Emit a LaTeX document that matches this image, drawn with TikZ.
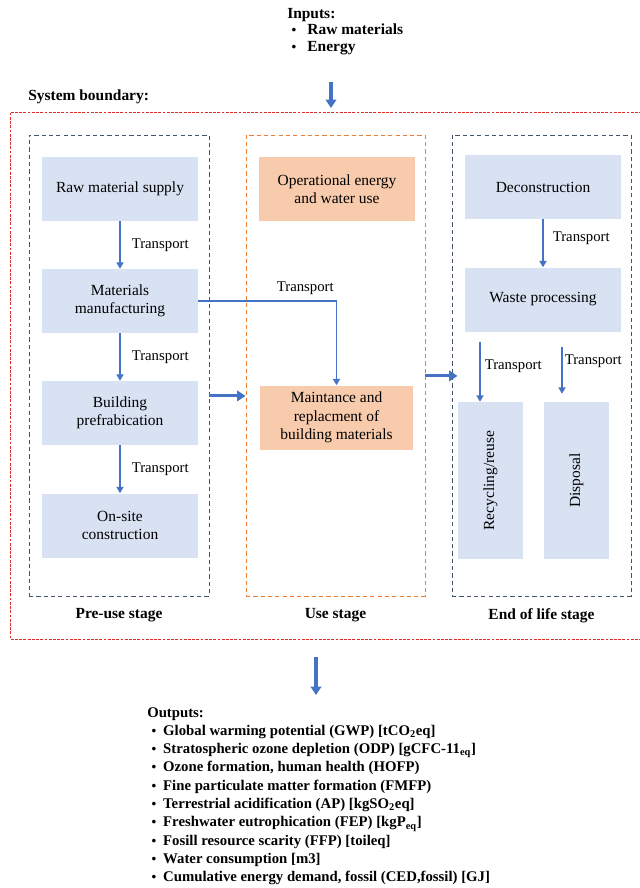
\documentclass[tikz,border=0pt]{standalone}
\usepackage{fontspec}
\setmainfont{Liberation Serif}
\usetikzlibrary{arrows.meta, positioning}
\definecolor{stageblue}{HTML}{D9E2F3}
\definecolor{usepeach}{HTML}{F8CBAD}
\definecolor{flowblue}{HTML}{4472C4}
\definecolor{frameslate}{HTML}{44546A}
\definecolor{frameorange}{HTML}{ED7D31}
\definecolor{boundred}{HTML}{DD2C2C}
\newcommand{\smbul}{\hspace{3pt}{\fontsize{9.5}{9.5}\selectfont\textbullet}}

\begin{document}
\begin{tikzpicture}[x=0.25mm, y=-0.25mm, font=\fontsize{11}{13}\selectfont,
  procbox/.style={fill=stageblue, minimum width=39mm, minimum height=16mm, align=center, inner sep=1pt},
  usebox/.style={procbox, fill=usepeach},
  tallbox/.style={fill=stageblue, minimum width=16.25mm, minimum height=39.25mm, inner sep=0pt},
  stageframe/.style={draw=frameslate, line width=0.7pt, dash pattern=on 3pt off 2.2pt, minimum width=45mm, minimum height=115.25mm},
  stagelabel/.style={inner sep=0pt, font=\fontsize{11}{13}\selectfont\bfseries},
  tlabel/.style={inner sep=0pt, font=\fontsize{10.5}{12}\selectfont},
  flow/.style={draw=flowblue, line width=1.1pt, -{Triangle[length=4.5pt,width=5pt]}},
  bigflow/.style={draw=flowblue, line width=2.2pt, -{Triangle[length=6pt,width=7.5pt]}}]
  \useasboundingbox (0,0) rectangle (640,888);

  % inputs
  \node[inner sep=0pt, anchor=north west, font=\fontsize{11}{12}\selectfont\bfseries] (inputs) at (287,6)
    {\begin{tabular}{@{}l@{\hspace{8pt}}l@{}}
      \multicolumn{2}{@{}l@{}}{Inputs:}\\
      \smbul & Raw materials\\
      \smbul & Energy
    \end{tabular}};
  \coordinate (intop) at (331,82);
  \coordinate (inbot) at (331,108);
  \draw[bigflow] (intop) -- (inbot);

  \node[stagelabel, anchor=west] (sysbound) at (28,97) {System boundary:};
  \draw[boundred, line width=0.6pt, dash pattern=on 2pt off 1pt] (642,112) -| (10,639) -- (642,639);

  % stage frames
  \node[stageframe] (preuse) at (119,365.5) {};
  \node[stageframe, draw=frameorange, minimum width=44.75mm] (usestage) at (335.5,365.5) {};
  \node[stageframe, minimum width=44.75mm] (eol) at (541.5,365.5) {};
  \node[stagelabel, below=3mm of preuse] {Pre-use stage};
  \node[stagelabel, below=3mm of usestage] {Use stage};
  \node[stagelabel, below=3mm of eol] {End of life stage};

  % pre-use stage
  \node[procbox] (rawsup) at (120,189) {Raw material supply};
  \node[procbox] (manu) at (120,301) {Materials\\manufacturing};
  \node[procbox] (prefab) at (120,413) {Building\\prefrabication};
  \node[procbox] (onsite) at (120,525.5) {On-site\\construction};
  \draw[flow] (rawsup) -- node[tlabel, midway, right=2.75mm] {Transport} (manu);
  \draw[flow] (manu) -- node[tlabel, midway, right=2.75mm] {Transport} (prefab);
  \draw[flow] (prefab) -- node[tlabel, midway, right=2.75mm] {Transport} (onsite);

  % use stage
  \node[usebox] (opuse) at (337,189) {Operational energy\\and water use};
  \node[usebox, minimum width=38.25mm] (maint) at (336.5,417.5) {Maintance and\\replacment of\\building materials};
  \draw[flow] (manu.east) -| node[tlabel, pos=0.5, above left=1.5mm and 0.5mm] {Transport} (maint.north);

  % end of life stage
  \node[procbox] (decon) at (543,187) {Deconstruction};
  \node[procbox] (waste) at (543,299.5) {Waste processing};
  \node[tallbox] (recyc) at (490.5,480.5) {\rotatebox{90}{Recycling/reuse}};
  \node[tallbox] (disp) at (576.5,480.5) {\rotatebox{90}{Disposal}};
  \draw[flow] (decon) -- node[tlabel, pos=0.4, right=2.25mm] {Transport} (waste);
  \draw[flow] ([xshift=-15.75mm, yshift=-2.5mm]waste.south) -- node[tlabel, pos=0.4, right=1mm] {Transport} ([xshift=-15.75mm]waste.south |- recyc.north);
  \draw[flow] ([xshift=4.75mm, yshift=-3.75mm]waste.south) -- node[tlabel, pos=0.3, right=0.5mm] {Transport} ([xshift=4.75mm, yshift=2mm]waste.south |- disp.north);

  % between stages
  \draw[bigflow] ([yshift=-7.6mm]preuse.east) -- ([yshift=-7.6mm]usestage.west);
  \draw[bigflow] ([yshift=-2.6mm]usestage.east) -- ([yshift=-2.6mm, xshift=1.5mm]eol.west);

  % outputs
  \coordinate (outtop) at (316,657);
  \coordinate (outbot) at (316,695);
  \draw[bigflow] (outtop) -- (outbot);
  \node[inner sep=0pt, anchor=north west, font=\fontsize{10.5}{13}\selectfont\bfseries] (outputs) at (147,704)
    {\begin{tabular}{@{}l@{\hspace{5pt}}l@{}}
      \multicolumn{2}{@{}l@{}}{Outputs:}\\
      \smbul & Global warming potential (GWP) [tCO\textsubscript{2}eq]\\
      \smbul & Stratospheric ozone depletion (ODP) [gCFC-11\textsubscript{eq}]\\
      \smbul & Ozone formation, human health (HOFP)\\
      \smbul & Fine particulate matter formation (FMFP)\\
      \smbul & Terrestrial acidification (AP) [kgSO\textsubscript{2}eq]\\
      \smbul & Freshwater eutrophication (FEP) [kgP\textsubscript{eq}]\\
      \smbul & Fosill resource scarity (FFP) [toileq]\\
      \smbul & Water consumption [m3]\\
      \smbul & Cumulative energy demand, fossil (CED,fossil) [GJ]
    \end{tabular}};
\end{tikzpicture}
\end{document}
